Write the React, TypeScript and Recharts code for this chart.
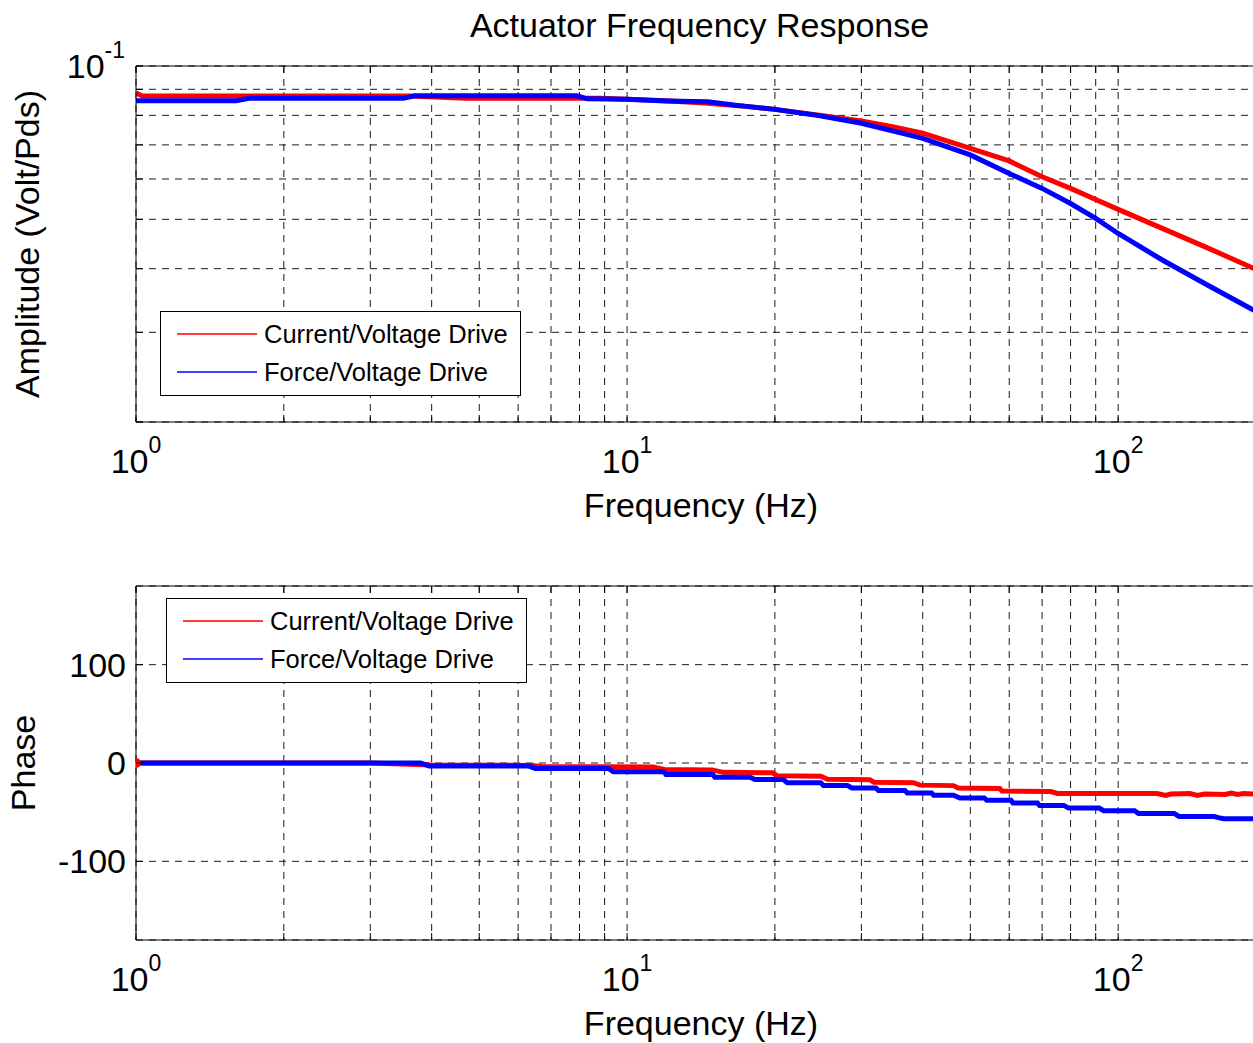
import React from "react";
import {
  LineChart,
  Line,
  XAxis,
  YAxis,
  CartesianGrid,
  ReferenceLine,
  Legend,
} from "recharts";

const FONT = '"Liberation Sans", Arial, Helvetica, sans-serif';

// axis ticks
const freqTicks = [1, 2, 3, 4, 5, 6, 7, 8, 9, 10, 20, 30, 40, 50, 60, 70, 80, 90, 100, 200];
const freqExponent: Record<number, string> = { 1: "0", 10: "1", 100: "2" };
const ampTicks = [0.02, 0.03, 0.04, 0.05, 0.06, 0.07, 0.08, 0.09, 0.1];
const phaseTicks = [-100, 0, 100];

const seriesNames = ["Current/Voltage Drive", "Force/Voltage Drive"];

// amplitude, current/voltage drive
const ampFreqCurrent = [1, 1.03, 3.6, 4.7, 8.8, 10, 12, 14.6, 17.1, 20, 24.4, 30, 34.7, 40, 50, 60, 70, 80, 90, 100, 123, 150, 186, 200];
const ampCurrent = [0.0885, 0.0873, 0.0873, 0.0864, 0.0864, 0.086, 0.0855, 0.0845, 0.0835, 0.0822, 0.0801, 0.078, 0.076, 0.0738, 0.0689, 0.0651, 0.0606, 0.0575, 0.0547, 0.0523, 0.048, 0.0442, 0.0403, 0.0392];

// amplitude, force/voltage drive
const ampFreqForce = [1, 1.6, 1.7, 3.5, 3.7, 7.9, 8.3, 10, 12, 14.6, 17.1, 20, 24.4, 30, 34.7, 40, 50, 60, 70, 80, 90, 100, 123, 150, 186, 200];
const ampForce = [0.0855, 0.0855, 0.0864, 0.0864, 0.0874, 0.0874, 0.0862, 0.086, 0.0854, 0.0851, 0.0835, 0.0822, 0.08, 0.0772, 0.0746, 0.0721, 0.0669, 0.0615, 0.0575, 0.0537, 0.0502, 0.0469, 0.0416, 0.0374, 0.0334, 0.0323];

// phase, current/voltage drive
const phaseFreqCurrent = [1, 3, 4, 6.4, 6.7, 11.3, 11.9, 14.9, 15.7, 19.8, 20.2, 24.8, 25.6, 31.2, 31.8, 38.3, 39.5, 46.2, 47.2, 57.4, 58, 72.9, 75.2, 120, 125, 128, 140, 145, 150, 165, 170, 175, 180, 188, 200];
const phaseCurrent = [0, 0, -2, -2.5, -3.5, -4, -6.5, -7, -9.5, -10, -13, -13.5, -16.5, -17, -19.5, -20, -22.5, -23, -25.5, -26, -28.5, -29, -31, -31, -33, -31.5, -31, -33, -31.5, -32, -30.5, -32, -31, -31.5, -31];

// phase, force/voltage drive
const phaseFreqForce = [1, 3.8, 3.95, 6.3, 6.5, 9.17, 9.37, 11.88, 12, 14.94, 15.09, 17.8, 18.2, 20.8, 21.2, 24.8, 25.1, 28.1, 28.7, 32.1, 32.5, 36.8, 37.2, 41.7, 42.1, 46.2, 47.6, 53.4, 54, 60.5, 61.1, 68.5, 69.2, 77.5, 79.2, 91.5, 93.4, 108, 110, 130, 133, 157, 160, 164, 200];
const phaseForce = [0, 0, -3, -3, -5.5, -5.5, -8.9, -8.9, -11.6, -11.6, -14.4, -14.4, -16.8, -16.8, -20.2, -20.2, -22.9, -22.9, -25.3, -25.3, -28, -28, -30.4, -30.4, -32.8, -32.8, -35.6, -35.6, -37.9, -37.9, -40.7, -40.7, -43.1, -43.1, -45.8, -45.8, -48.5, -48.5, -51.3, -51.3, -54.4, -54.4, -55.5, -56.7, -56.7];

const rows = (f: number[], v: number[]) => f.map((x, i) => ({ f: x, v: v[i] }));

const CHART_W = 1300;
const MARGIN_RIGHT = 34;
const Y_AXIS_W = 136;
const GRID_DASH = "7 6";
const LINE_W = 5;

const FreqTick = (props: any) => {
  const { x, y, payload, plotH } = props;
  const exp = freqExponent[payload.value];
  return (
    <g>
      <line x1={x} x2={x} y1={y} y2={y - 7} stroke="#000" />
      <line x1={x} x2={x} y1={y - plotH} y2={y - plotH + 7} stroke="#000" />
      {exp !== undefined && (
        <text x={x} y={y + 51} textAnchor="middle" fontFamily={FONT} fontSize={34} fill="#000">
          10
          <tspan dy={-20} fontSize={23}>
            {exp}
          </tspan>
        </text>
      )}
    </g>
  );
};

const AmpTick = (props: any) => {
  const { x, y, payload } = props;
  return (
    <g>
      <line x1={x} x2={x + 7} y1={y} y2={y} stroke="#000" />
      {payload.value === 0.1 && (
        <text x={x - 11} y={y + 12} textAnchor="end" fontFamily={FONT} fontSize={34} fill="#000">
          10
          <tspan dy={-20} fontSize={23}>
            -1
          </tspan>
        </text>
      )}
    </g>
  );
};

const PhaseTick = (props: any) => {
  const { x, y, payload } = props;
  return (
    <g>
      <line x1={x} x2={x + 7} y1={y} y2={y} stroke="#000" />
      <text x={x - 10} y={y} dy="0.35em" textAnchor="end" fontFamily={FONT} fontSize={34} fill="#000">
        {payload.value}
      </text>
    </g>
  );
};

const XTitle = (props: any) => {
  const vb = props.viewBox ?? { x: Y_AXIS_W, y: props.fallbackY, width: CHART_W - MARGIN_RIGHT - Y_AXIS_W };
  return (
    <text x={vb.x + vb.width / 2} y={vb.y + 95} textAnchor="middle" fontFamily={FONT} fontSize={34} fill="#000">
      Frequency (Hz)
    </text>
  );
};

const YTitle = (props: any) => {
  const vb = props.viewBox ?? { y: props.fallbackY, height: props.fallbackH };
  const cy = vb.y + vb.height / 2;
  const x = props.baseX;
  return (
    <text
      x={x}
      y={cy}
      transform={`rotate(-90 ${x} ${cy})`}
      textAnchor="middle"
      fontFamily={FONT}
      fontSize={34}
      fill="#000"
    >
      {props.text}
    </text>
  );
};

const colors = ["#ff0000", "#0000ff"];

const LegendBox = () => (
  <div
    style={{
      boxSizing: "border-box",
      width: 361,
      height: 85,
      border: "1px solid #000",
      background: "#fff",
      position: "relative",
      fontFamily: FONT,
      fontSize: 25.5,
      color: "#000",
    }}
  >
    {seriesNames.map((name, i) => (
      <React.Fragment key={name}>
        <div
          style={{
            position: "absolute",
            left: 16,
            top: 21 + i * 38,
            width: 80,
            height: 2,
            background: colors[i],
            opacity: 0.75,
          }}
        />
        <div
          style={{
            position: "absolute",
            left: 103,
            top: 7 + i * 38,
            lineHeight: "30px",
            whiteSpace: "nowrap",
          }}
        >
          {name}
        </div>
      </React.Fragment>
    ))}
  </div>
);

const AmplitudeChart = () => (
  <LineChart
    width={CHART_W}
    height={535}
    margin={{ top: 66, right: MARGIN_RIGHT, bottom: 0, left: 0 }}
  >
    <CartesianGrid strokeDasharray={GRID_DASH} stroke="#000" strokeOpacity={0.9} />
    <XAxis
      dataKey="f"
      type="number"
      scale="log"
      domain={[1, 200]}
      allowDataOverflow
      ticks={freqTicks}
      interval={0}
      height={113}
      tickSize={0}
      tickMargin={0}
      axisLine={{ stroke: "#000" }}
      tick={<FreqTick plotH={356} />}
      label={<XTitle fallbackY={422} />}
    />
    <YAxis
      type="number"
      scale="log"
      domain={[0.02, 0.1]}
      allowDataOverflow
      ticks={ampTicks}
      interval={0}
      width={Y_AXIS_W}
      tickSize={0}
      tickMargin={0}
      axisLine={{ stroke: "#000" }}
      tick={<AmpTick />}
      label={<YTitle text="Amplitude (Volt/Pds)" baseX={39} fallbackY={66} fallbackH={356} />}
    />
    <ReferenceLine y={0.1} stroke="#000" />
    <ReferenceLine x={200} stroke="#000" />
    <Line
      data={rows(ampFreqCurrent, ampCurrent)}
      dataKey="v"
      name={seriesNames[0]}
      type="linear"
      stroke={colors[0]}
      strokeWidth={LINE_W}
      dot={false}
      isAnimationActive={false}
    />
    <Line
      data={rows(ampFreqForce, ampForce)}
      dataKey="v"
      name={seriesNames[1]}
      type="linear"
      stroke={colors[1]}
      strokeWidth={LINE_W}
      dot={false}
      isAnimationActive={false}
    />
    <Legend
      layout="horizontal"
      verticalAlign="middle"
      align="center"
      content={<LegendBox />}
      wrapperStyle={{ left: 160, top: 311, width: 361, height: 85 }}
    />
  </LineChart>
);

const PhaseChart = () => (
  <LineChart
    width={CHART_W}
    height={521}
    margin={{ top: 64, right: MARGIN_RIGHT, bottom: 0, left: 0 }}
  >
    <CartesianGrid strokeDasharray={GRID_DASH} stroke="#000" strokeOpacity={0.9} />
    <XAxis
      dataKey="f"
      type="number"
      scale="log"
      domain={[1, 200]}
      allowDataOverflow
      ticks={freqTicks}
      interval={0}
      height={103}
      tickSize={0}
      tickMargin={0}
      axisLine={{ stroke: "#000" }}
      tick={<FreqTick plotH={354} />}
      label={<XTitle fallbackY={418} />}
    />
    <YAxis
      type="number"
      domain={[-180, 180]}
      allowDataOverflow
      ticks={phaseTicks}
      interval={0}
      width={Y_AXIS_W}
      tickSize={0}
      tickMargin={0}
      axisLine={{ stroke: "#000" }}
      tick={<PhaseTick />}
      label={<YTitle text="Phase" baseX={35} fallbackY={64} fallbackH={354} />}
    />
    <ReferenceLine y={180} stroke="#000" />
    <ReferenceLine x={200} stroke="#000" />
    <Line
      data={rows(phaseFreqCurrent, phaseCurrent)}
      dataKey="v"
      name={seriesNames[0]}
      type="linear"
      stroke={colors[0]}
      strokeWidth={LINE_W}
      dot={(p: any) =>
        p.index === 0 ? (
          <circle key="start" cx={p.cx} cy={p.cy} r={5} fill={colors[0]} />
        ) : (
          <g key={p.index} />
        )
      }
      isAnimationActive={false}
    />
    <Line
      data={rows(phaseFreqForce, phaseForce)}
      dataKey="v"
      name={seriesNames[1]}
      type="linear"
      stroke={colors[1]}
      strokeWidth={LINE_W}
      dot={false}
      isAnimationActive={false}
    />
    <Legend
      layout="horizontal"
      verticalAlign="middle"
      align="center"
      content={<LegendBox />}
      wrapperStyle={{ left: 166, top: 76, width: 361, height: 85 }}
    />
  </LineChart>
);

export default function App() {
  return (
    <div
      style={{
        position: "absolute",
        left: 0,
        top: 0,
        width: 1253,
        height: 1043,
        overflow: "hidden",
        background: "#fff",
      }}
    >
      <div
        style={{
          position: "absolute",
          left: 0,
          top: 8,
          width: 1253,
          textAlign: "center",
          paddingLeft: 146,
          boxSizing: "border-box",
          fontFamily: FONT,
          fontSize: 34,
          lineHeight: "34px",
          color: "#000",
        }}
      >
        Actuator Frequency Response
      </div>
      <div style={{ position: "absolute", left: 0, top: 0 }}>
        <AmplitudeChart />
      </div>
      <div style={{ position: "absolute", left: 0, top: 522 }}>
        <PhaseChart />
      </div>
    </div>
  );
}
